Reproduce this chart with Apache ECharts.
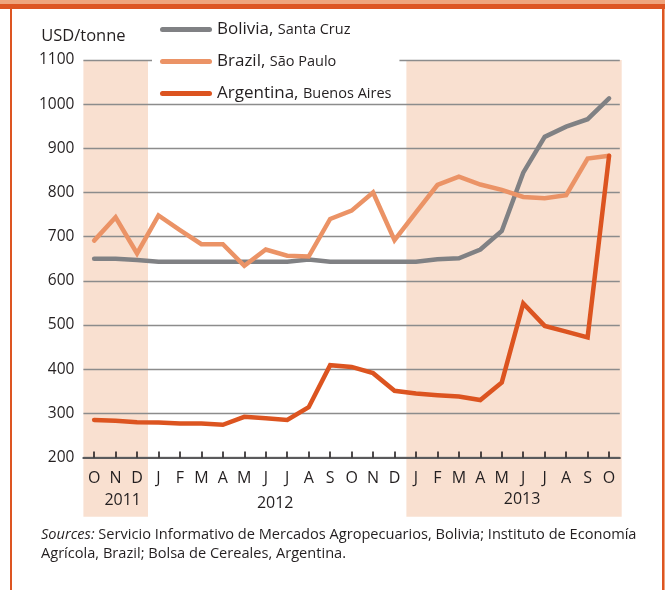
<!DOCTYPE html>
<html>
<head>
<meta charset="utf-8">
<script src="https://cdn.jsdelivr.net/npm/echarts@6/dist/echarts.min.js"></script>
<style>
html,body{margin:0;padding:0;background:#fff;}
#wrap{position:relative;width:665px;height:590px;overflow:hidden;background:#fff;}
#chart{position:absolute;left:0;top:0;width:665px;height:590px;}
.fr{position:absolute;pointer-events:none;}
</style>
</head>
<body>
<div id="wrap">
<div id="chart"></div>
<div class="fr" style="left:0;top:0;width:665px;height:4px;background:#EFA47C;"></div>
<div class="fr" style="left:0;top:4px;width:665px;height:5px;background:#DD5522;"></div>
<div class="fr" style="left:10px;top:9px;width:2px;height:581px;background:#DD5522;"></div>
<div class="fr" style="left:662px;top:9px;width:2px;height:581px;background:#DD5522;"></div>
<div class="fr" style="left:664px;top:9px;width:1px;height:581px;background:#EFA47C;"></div>
</div>
<script>
// Categories (Oct 2011 – Oct 2013)
const months = ['O','N','D','J','F','M','A','M','J','J','A','S','O','N','D','J','F','M','A','M','J','J','A','S','O'];
// Series values, USD/tonne
const bolivia   = [650,650,647,643,643,643,643,643,643,643,648,643,643,643,643,643,649,651,671,713,845,926,949,966,1013];
const brazil    = [691,744,662,748,715,683,683,634,671,657,655,740,759,800,692,755,817,836,818,806,790,787,794,877,883];
const argentina = [285,283,280,279,277,277,274,292,289,285,314,409,405,391,351,345,341,338,330,370,549,498,485,472,883];
// Year periods, in month units along the axis
const years = ['2011','2012','2013'];
const yearStart = [0,3,15];
const yearEnd   = [3,15,25];
const yearShaded = [true,false,true];
// Legend names
const seriesNames = ['Bolivia','Brazil','Argentina'];
const seriesPlaces = ['Santa Cruz','São Paulo','Buenos Aires'];
// Y axis
const yMin = 200, yMax = 1100, yStep = 100;
const yUnit = 'USD/tonne';
const sourceLine1 = 'Servicio Informativo de Mercados Agropecuarios, Bolivia; Instituto de Economía';
const sourceLine2 = 'Agrícola, Brazil; Bolsa de Cereales, Argentina.';

const FONT = '"Open Sans", sans-serif';
const TXT = '#231f20';
const colors = ['#808184','#EB9366','#DC5420'];
const yearOffsets = [[7,0],[-2,3],[8,-1]];

const chart = echarts.init(document.getElementById('chart'), null, {renderer:'canvas'});
const shadeData = years.map((y,i)=>[
  {xAxis:yearStart[i], yAxis:0,
   itemStyle:{color: yearShaded[i] ? '#F9E0D0' : 'rgba(0,0,0,0)'},
   label:{show:true, formatter:y, position:'insideBottom', distance:8, offset:yearOffsets[i],
          fontFamily:FONT, fontSize:16, color:TXT}},
  {xAxis:yearEnd[i], yAxis:1}
]);

const lineSeries = [bolivia, brazil, argentina].map((d,i)=>({
  name: seriesNames[i], type:'line', xAxisIndex:0, yAxisIndex:0, data:d,
  symbol:'none', z:5, color:colors[i],
  lineStyle:{width:4.5, color:colors[i], join:'miter', cap:'round'},
  emphasis:{disabled:true}
}));

const option = {
  animation:false,
  textStyle:{fontFamily:FONT},
  grid:[
    {left:83.4, top:60, width:536.4, height:397.5, containLabel:false},
    {left:83.4, top:60, width:538.3, height:456.7, containLabel:false}
  ],
  title:{
    left:41, top:526, padding:0,
    text:'{i|Sources:} ' + sourceLine1 + '\n' + sourceLine2,
    textStyle:{fontFamily:FONT, fontSize:14.6, fontWeight:'normal', color:TXT, lineHeight:18.5,
      rich:{i:{fontStyle:'italic', fontFamily:FONT, fontSize:14.6, color:TXT, lineHeight:18.5}}}
  },
  legend:{
    left:152, top:13, orient:'vertical', backgroundColor:'#fff',
    padding:[8,8,0,8], itemGap:15, itemWidth:52, itemHeight:5, itemTextGap:10,
    icon:'path://M2.5,0 L49.5,0 A2.5,2.5 0 0 1 49.5,5 L2.5,5 A2.5,2.5 0 0 1 2.5,0 Z',
    data:seriesNames,
    formatter:(n)=>'{a|'+n+', }{b|'+seriesPlaces[seriesNames.indexOf(n)]+'}',
    textStyle:{rich:{
      a:{fontFamily:FONT, fontSize:17, color:TXT, lineHeight:18},
      b:{fontFamily:FONT, fontSize:14.5, color:TXT, lineHeight:18}
    }}
  },
  xAxis:[
    {type:'category', gridIndex:0, data:months, boundaryGap:true, z:3,
     axisLine:{lineStyle:{color:'#5a5a5c', width:2.2}},
     axisTick:{show:true, inside:true, alignWithLabel:true, interval:0, length:6, lineStyle:{color:TXT, width:1.6}},
     axisLabel:{interval:0, fontFamily:FONT, fontSize:16, color:TXT, margin:13},
     splitLine:{show:false}},
    {type:'value', gridIndex:1, min:0, max:25, show:false}
  ],
  yAxis:[
    {type:'value', gridIndex:0, min:yMin, max:yMax, interval:yStep, z:3,
     name:yUnit, nameLocation:'end', nameGap:15,
     nameTextStyle:{fontFamily:FONT, fontSize:16.5, color:TXT, align:'center'},
     axisLine:{show:false}, axisTick:{show:false},
     axisLabel:{fontFamily:FONT, fontSize:15.5, color:TXT, margin:9, formatter:(v)=>String(v)},
     splitLine:{show:true, lineStyle:{color:'#8c8c8c', width:1.3}}},
    {type:'value', gridIndex:1, min:0, max:1, show:false}
  ],
  series:[
    {type:'line', xAxisIndex:1, yAxisIndex:1, data:[[0,0]], symbol:'none', z:1,
     lineStyle:{opacity:0}, silent:true, legendHoverLink:false,
     markArea:{silent:true, z:1, data:shadeData}},
    ...lineSeries
  ]
};
chart.setOption(option);
</script>
</body>
</html>
